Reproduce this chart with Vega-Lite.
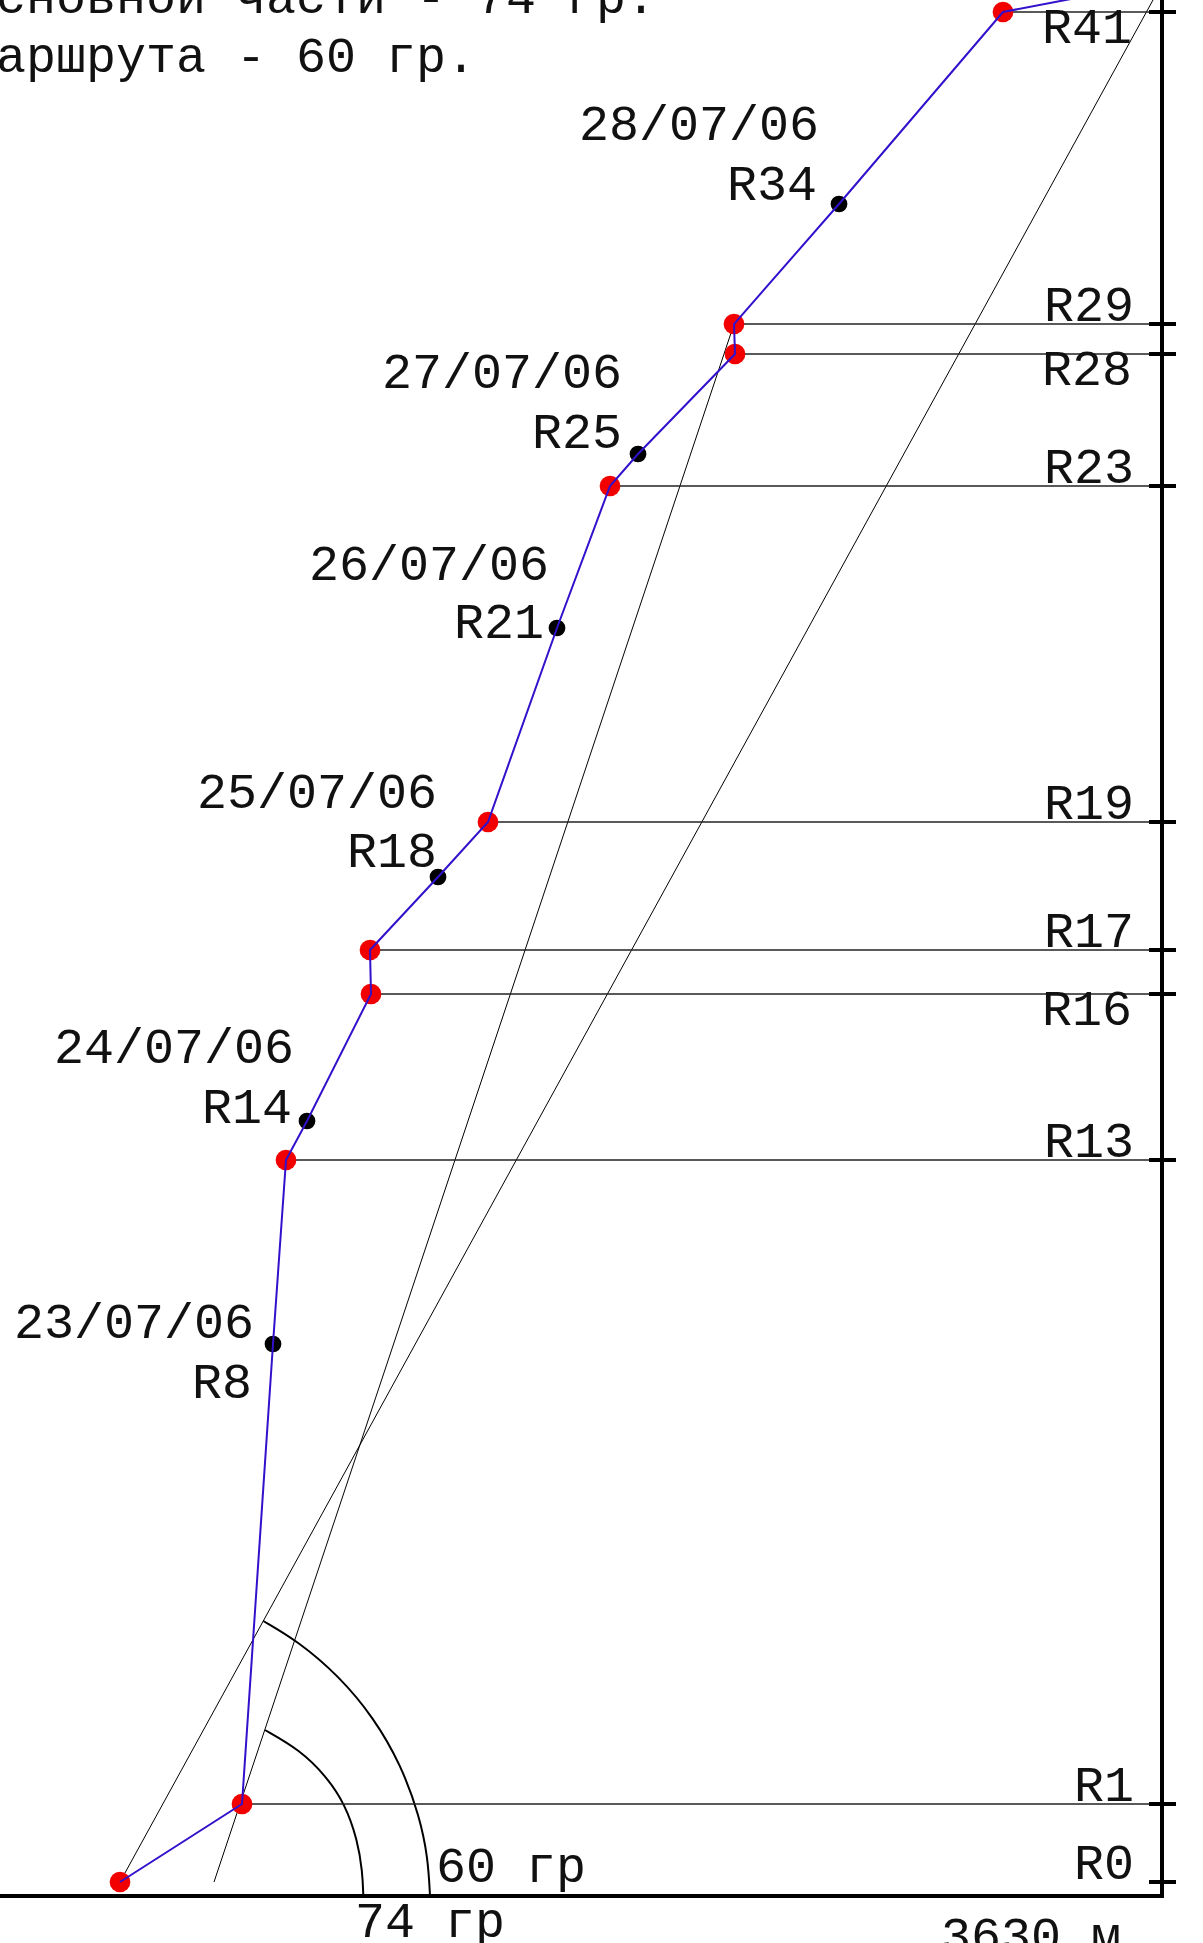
{
  "$schema": "https://vega.github.io/schema/vega-lite/v6.json",
  "width": 1203,
  "height": 1943,
  "autosize": {"type": "none"},
  "padding": 0,
  "background": "white",
  "config": {"view": {"stroke": null}},
  "datasets": {
    "route": [
      {"id": "R0", "n": 0, "type": "key", "x": 120, "h": 14},
      {"id": "R1", "n": 1, "type": "key", "x": 242, "h": 92},
      {"id": "R8", "n": 8, "type": "inter", "x": 273, "h": 552},
      {"id": "R13", "n": 13, "type": "key", "x": 286, "h": 736},
      {"id": "R14", "n": 14, "type": "inter", "x": 307, "h": 775},
      {"id": "R16", "n": 16, "type": "key", "x": 371, "h": 902},
      {"id": "R17", "n": 17, "type": "key", "x": 370, "h": 946},
      {"id": "R18", "n": 18, "type": "inter", "x": 438, "h": 1019},
      {"id": "R19", "n": 19, "type": "key", "x": 488, "h": 1074},
      {"id": "R21", "n": 21, "type": "inter", "x": 557, "h": 1268},
      {"id": "R23", "n": 23, "type": "key", "x": 610, "h": 1410},
      {"id": "R25", "n": 25, "type": "inter", "x": 638, "h": 1442},
      {"id": "R28", "n": 28, "type": "key", "x": 735, "h": 1542},
      {"id": "R29", "n": 29, "type": "key", "x": 734, "h": 1572},
      {"id": "R34", "n": 34, "type": "inter", "x": 839, "h": 1692},
      {"id": "R41", "n": 41, "type": "key", "x": 1003, "h": 1884},
      {"id": "next", "n": 42, "type": "end", "x": 1123, "h": 1907}
    ],
    "slopes": [
      {"g": "60", "n": 0, "x": 120, "h": 14},
      {"g": "60", "n": 1, "x": 1153, "h": 1896},
      {"g": "74", "n": 0, "x": 214, "h": 14},
      {"g": "74", "n": 1, "x": 734, "h": 1572}
    ],
    "arcs": [
      {"g": "60", "n": 0, "x": 263.3, "h": 275},
      {"g": "60", "n": 1, "x": 297.7, "h": 255},
      {"g": "60", "n": 2, "x": 339, "h": 220},
      {"g": "60", "n": 3, "x": 374, "h": 178},
      {"g": "60", "n": 4, "x": 401, "h": 131},
      {"g": "60", "n": 5, "x": 419.5, "h": 80},
      {"g": "60", "n": 6, "x": 428, "h": 38},
      {"g": "60", "n": 7, "x": 430, "h": 0},
      {"g": "74", "n": 0, "x": 265, "h": 166},
      {"g": "74", "n": 1, "x": 300, "h": 146},
      {"g": "74", "n": 2, "x": 326, "h": 120},
      {"g": "74", "n": 3, "x": 345, "h": 92},
      {"g": "74", "n": 4, "x": 357.5, "h": 56},
      {"g": "74", "n": 5, "x": 362.5, "h": 24},
      {"g": "74", "n": 6, "x": 363.3, "h": 0}
    ],
    "tags": [
      {"text": "23/07/06", "x": 254, "h": 558},
      {"text": "24/07/06", "x": 294, "h": 833},
      {"text": "25/07/06", "x": 437, "h": 1088},
      {"text": "26/07/06", "x": 549, "h": 1316},
      {"text": "27/07/06", "x": 622, "h": 1508},
      {"text": "28/07/06", "x": 819, "h": 1756},
      {"text": "R8", "x": 252, "h": 498},
      {"text": "R14", "x": 292, "h": 773},
      {"text": "R18", "x": 437, "h": 1029},
      {"text": "R21", "x": 544, "h": 1258},
      {"text": "R25", "x": 622, "h": 1448},
      {"text": "R34", "x": 817, "h": 1696}
    ],
    "notes": [
      {"text": "сновной части - 74 гр.", "x": -4, "h": 1883},
      {"text": "аршрута - 60 гр.", "x": -4, "h": 1824},
      {"text": "60 гр", "x": 436, "h": 14},
      {"text": "74 гр", "x": 355, "h": -41},
      {"text": "3630 м", "x": 941, "h": -56}
    ]
  },
  "layer": [
    {
      "data": {"name": "slopes"},
      "mark": {"type": "line", "color": "#000000", "strokeWidth": 1, "clip": true},
      "encoding": {
        "x": {"field": "x", "type": "quantitative", "scale": {"domain": [0, 1203], "nice": false, "zero": false}, "axis": null},
        "y": {"field": "h", "type": "quantitative", "scale": {"domain": [-47, 1896], "nice": false, "zero": false}, "axis": null},
        "detail": {"field": "g"},
        "order": {"field": "n"}
      }
    },
    {
      "data": {"name": "arcs"},
      "mark": {"type": "line", "color": "#000000", "strokeWidth": 2, "interpolate": "basis", "clip": true},
      "encoding": {
        "x": {"field": "x", "type": "quantitative", "scale": {"domain": [0, 1203], "nice": false, "zero": false}, "axis": null},
        "y": {"field": "h", "type": "quantitative", "scale": {"domain": [-47, 1896], "nice": false, "zero": false}, "axis": null},
        "detail": {"field": "g"},
        "order": {"field": "n"}
      }
    },
    {
      "data": {"name": "route"},
      "transform": [{"filter": "datum.type === 'key' && datum.id !== 'R0'"}],
      "mark": {"type": "rule", "color": "#222222", "strokeWidth": 1.3},
      "encoding": {
        "x": {"field": "x", "type": "quantitative", "scale": {"domain": [0, 1203], "nice": false, "zero": false}, "axis": null},
        "x2": {"datum": 1162},
        "y": {"field": "h", "type": "quantitative", "scale": {"domain": [-47, 1896], "nice": false, "zero": false}, "axis": null}
      }
    },
    {
      "data": {"values": [{}]},
      "mark": {"type": "rule", "color": "#000000", "strokeWidth": 4},
      "encoding": {
        "x": {"datum": 1162, "type": "quantitative", "scale": {"domain": [0, 1203], "nice": false, "zero": false}, "axis": null},
        "y": {"datum": 0, "type": "quantitative", "scale": {"domain": [-47, 1896], "nice": false, "zero": false}, "axis": null},
        "y2": {"datum": 1896}
      }
    },
    {
      "data": {"values": [{}]},
      "mark": {"type": "rule", "color": "#000000", "strokeWidth": 4},
      "encoding": {
        "x": {"datum": 0, "type": "quantitative", "scale": {"domain": [0, 1203], "nice": false, "zero": false}, "axis": null},
        "x2": {"datum": 1164},
        "y": {"datum": 0, "type": "quantitative", "scale": {"domain": [-47, 1896], "nice": false, "zero": false}, "axis": null}
      }
    },
    {
      "data": {"name": "route"},
      "transform": [{"filter": "datum.type === 'key'"}],
      "mark": {"type": "rule", "color": "#000000", "strokeWidth": 4},
      "encoding": {
        "x": {"datum": 1149, "type": "quantitative", "scale": {"domain": [0, 1203], "nice": false, "zero": false}, "axis": null},
        "x2": {"datum": 1176},
        "y": {"field": "h", "type": "quantitative", "scale": {"domain": [-47, 1896], "nice": false, "zero": false}, "axis": null}
      }
    },
    {
      "data": {"name": "route"},
      "transform": [{"filter": "datum.type !== 'end'"}],
      "mark": {"type": "circle", "opacity": 1},
      "encoding": {
        "x": {"field": "x", "type": "quantitative", "scale": {"domain": [0, 1203], "nice": false, "zero": false}, "axis": null},
        "y": {"field": "h", "type": "quantitative", "scale": {"domain": [-47, 1896], "nice": false, "zero": false}, "axis": null},
        "color": {"field": "type", "type": "nominal", "scale": {"domain": ["key", "inter"], "range": ["#f20000", "#000000"]}, "legend": null},
        "size": {"field": "type", "type": "ordinal", "scale": {"domain": ["key", "inter"], "range": [430, 280]}, "legend": null}
      }
    },
    {
      "data": {"name": "route"},
      "mark": {"type": "line", "color": "#3311cc", "strokeWidth": 2, "clip": true},
      "encoding": {
        "x": {"field": "x", "type": "quantitative", "scale": {"domain": [0, 1203], "nice": false, "zero": false}, "axis": null},
        "y": {"field": "h", "type": "quantitative", "scale": {"domain": [-47, 1896], "nice": false, "zero": false}, "axis": null},
        "order": {"field": "n"}
      }
    },
    {
      "data": {"name": "route"},
      "transform": [{"filter": "datum.type === 'key' && datum.id !== 'R41' && datum.id !== 'R28' && datum.id !== 'R16'"}],
      "mark": {"type": "text", "font": "Liberation Mono", "fontSize": 50, "align": "right", "baseline": "alphabetic", "dx": -28, "dy": -3, "color": "#111111"},
      "encoding": {
        "x": {"datum": 1162, "type": "quantitative", "scale": {"domain": [0, 1203], "nice": false, "zero": false}, "axis": null},
        "y": {"field": "h", "type": "quantitative", "scale": {"domain": [-47, 1896], "nice": false, "zero": false}, "axis": null},
        "text": {"field": "id"}
      }
    },
    {
      "data": {"name": "route"},
      "transform": [{"filter": "datum.id === 'R41' || datum.id === 'R28' || datum.id === 'R16'"}],
      "mark": {"type": "text", "font": "Liberation Mono", "fontSize": 50, "align": "right", "baseline": "alphabetic", "dx": -30, "dy": 31, "color": "#111111"},
      "encoding": {
        "x": {"datum": 1162, "type": "quantitative", "scale": {"domain": [0, 1203], "nice": false, "zero": false}, "axis": null},
        "y": {"field": "h", "type": "quantitative", "scale": {"domain": [-47, 1896], "nice": false, "zero": false}, "axis": null},
        "text": {"field": "id"}
      }
    },
    {
      "data": {"name": "tags"},
      "mark": {"type": "text", "font": "Liberation Mono", "fontSize": 50, "align": "right", "baseline": "alphabetic", "color": "#111111"},
      "encoding": {
        "x": {"field": "x", "type": "quantitative", "scale": {"domain": [0, 1203], "nice": false, "zero": false}, "axis": null},
        "y": {"field": "h", "type": "quantitative", "scale": {"domain": [-47, 1896], "nice": false, "zero": false}, "axis": null},
        "text": {"field": "text"}
      }
    },
    {
      "data": {"name": "notes"},
      "mark": {"type": "text", "font": "Liberation Mono", "fontSize": 50, "align": "left", "baseline": "alphabetic", "color": "#111111", "clip": true},
      "encoding": {
        "x": {"field": "x", "type": "quantitative", "scale": {"domain": [0, 1203], "nice": false, "zero": false}, "axis": null},
        "y": {"field": "h", "type": "quantitative", "scale": {"domain": [-47, 1896], "nice": false, "zero": false}, "axis": null},
        "text": {"field": "text"}
      }
    }
  ]
}
